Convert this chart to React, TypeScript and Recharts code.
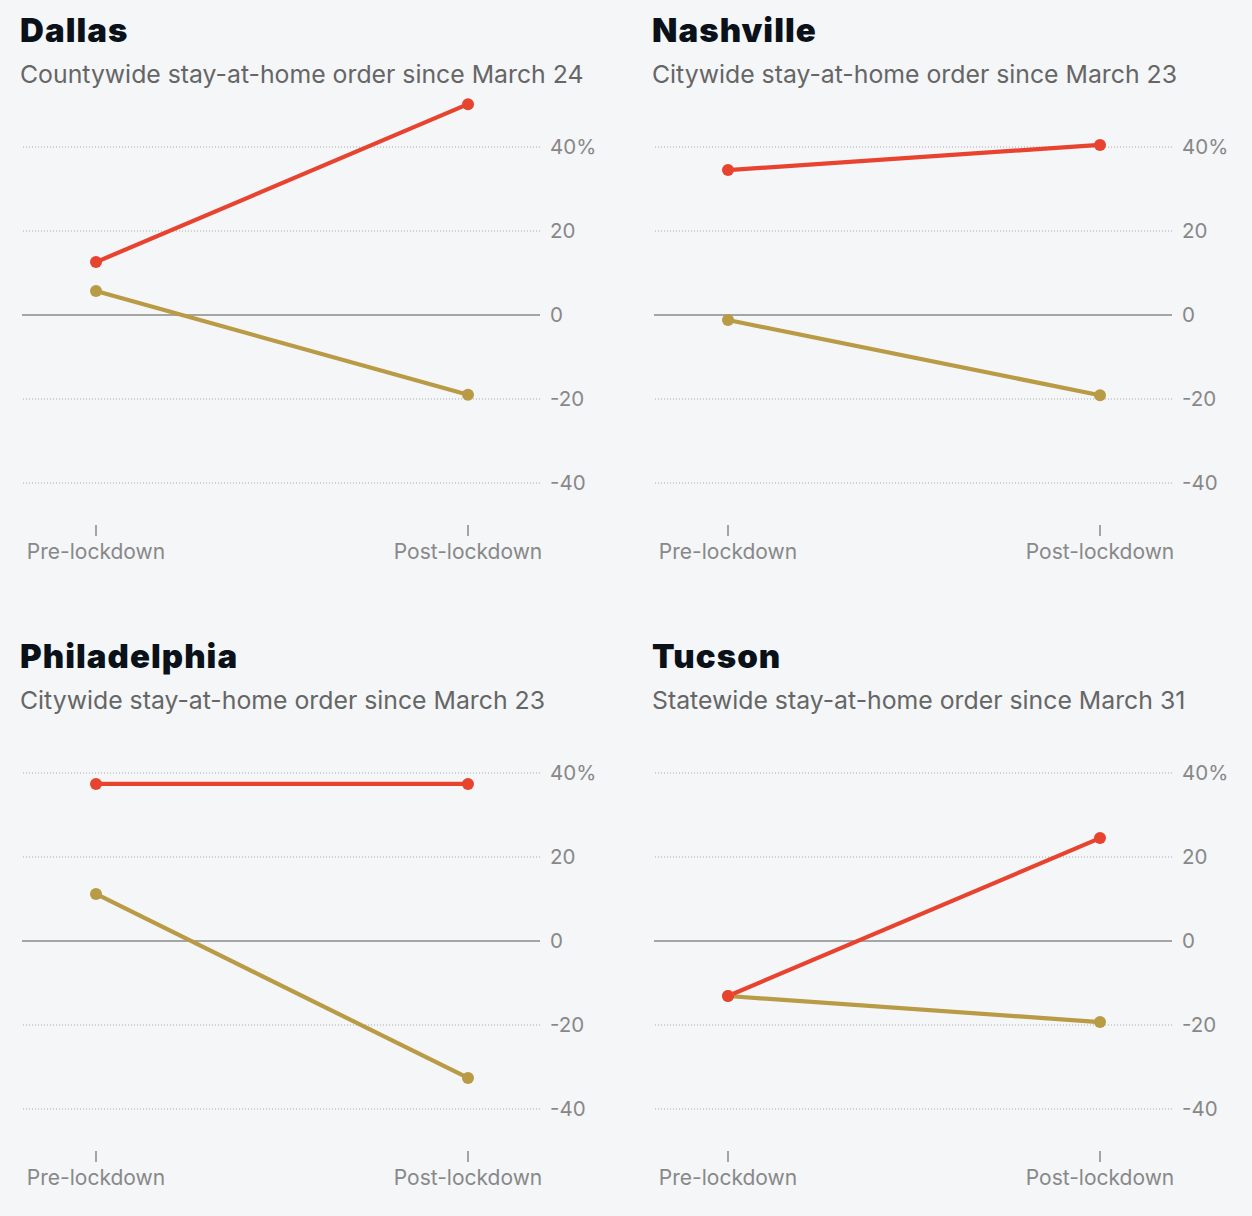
import React from 'react';
import { LineChart, Line, XAxis, YAxis, ReferenceLine } from 'recharts';

const periods = ['Pre-lockdown', 'Post-lockdown'];
const cities = ['Dallas', 'Nashville', 'Philadelphia', 'Tucson'];
const subtitles = [
  'Countywide stay-at-home order since March 24',
  'Citywide stay-at-home order since March 23',
  'Citywide stay-at-home order since March 23',
  'Statewide stay-at-home order since March 31',
];
const redValues = [
  [12.6, 50.2],
  [34.5, 40.5],
  [37.4, 37.4],
  [-13.1, 24.5],
];
const goldValues = [
  [5.7, -19.0],
  [-1.2, -19.1],
  [11.2, -32.6],
  [-13.1, -19.3],
];
const yTicks = [-40, -20, 0, 20, 40];

const RED = '#e8432f';
const GOLD = '#b99a45';
const GRAY = '#888888';
const FONT = 'Inter, "Noto Sans", sans-serif';

const positions = [
  { x: 0, y: 0 },
  { x: 632, y: 0 },
  { x: 0, y: 626 },
  { x: 632, y: 626 },
];

function Panel({ idx }: { idx: number }) {
  const pos = positions[idx];
  const data = periods.map((p, i) => ({
    period: p,
    red: redValues[idx][i],
    gold: goldValues[idx][i],
  }));
  return (
    <>
      <div
        style={{
          position: 'absolute',
          left: pos.x + 20,
          top: pos.y + 14,
          fontFamily: FONT,
          fontWeight: 900,
          fontSize: 33,
          lineHeight: 1,
          color: '#0a1118',
          letterSpacing: 1.05,
          whiteSpace: 'nowrap',
        }}
      >
        {cities[idx]}
      </div>
      <div
        style={{
          position: 'absolute',
          left: pos.x + 20,
          top: pos.y + 61.5,
          fontFamily: FONT,
          fontWeight: 400,
          fontSize: 24.8,
          lineHeight: 1,
          color: '#666666',
          whiteSpace: 'nowrap',
        }}
      >
        {subtitles[idx]}
      </div>
      <div style={{ position: 'absolute', left: pos.x, top: pos.y + 60 }}>
        <LineChart
          width={620}
          height={505}
          data={data}
          margin={{ top: 24, right: 0, left: 22, bottom: 0 }}
        >
          {yTicks
            .filter((t) => t !== 0)
            .map((t) => (
              <ReferenceLine
                key={t}
                y={t}
                stroke="#a8a8a8"
                strokeDasharray="1 2"
                strokeWidth={1.2}
              />
            ))}
          <XAxis
            dataKey="period"
            type="category"
            padding={{ left: 74, right: 72 }}
            axisLine={false}
            tickLine={{ stroke: GRAY, strokeWidth: 1.5 }}
            tickSize={11}
            tickMargin={8}
            height={40}
            interval={0}
            tick={{ fill: GRAY, fontSize: 21, fontFamily: FONT }}
          />
          <YAxis
            orientation="right"
            type="number"
            domain={[-50, 55]}
            ticks={yTicks}
            width={80}
            axisLine={false}
            tickLine={false}
            tickMargin={4}
            tick={{ fill: GRAY, fontSize: 20.5, fontFamily: FONT, textAnchor: 'start' }}
            tickFormatter={(v: number) => (v === 40 ? '40%' : String(v))}
          />
          <ReferenceLine y={0} stroke="#8a8a8a" strokeWidth={1.5} />
          <Line
            dataKey="gold"
            stroke={GOLD}
            strokeWidth={4.2}
            dot={{ r: 6, fill: GOLD, stroke: 'none' }}
            activeDot={false}
            isAnimationActive={false}
          />
          <Line
            dataKey="red"
            stroke={RED}
            strokeWidth={4.2}
            dot={{ r: 6, fill: RED, stroke: 'none' }}
            activeDot={false}
            isAnimationActive={false}
          />
        </LineChart>
      </div>
    </>
  );
}

export default function App() {
  return (
    <div
      style={{
        position: 'absolute',
        left: 0,
        top: 0,
        width: 1252,
        height: 1216,
        background: '#f4f6f8',
        overflow: 'hidden',
      }}
    >
      {cities.map((_, i) => (
        <Panel key={i} idx={i} />
      ))}
    </div>
  );
}
